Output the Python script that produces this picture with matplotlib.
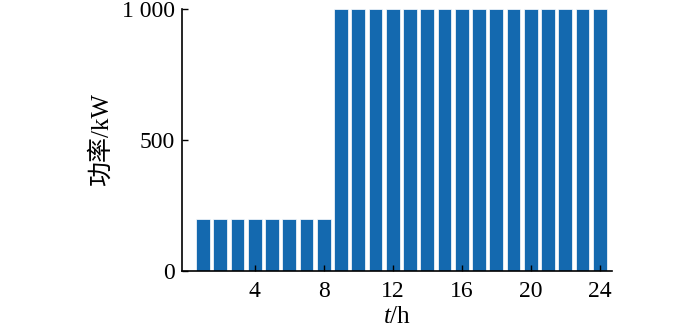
import matplotlib
matplotlib.use("Agg")
import matplotlib.pyplot as plt

hours = list(range(1, 25))
power = [200]*8 + [1000]*16
xticks = [4, 8, 12, 16, 20, 24]
yticks = [0, 500, 1000]
ytick_labels = ["0", "500", "1 000"]

plt.rcParams['font.family'] = ['Liberation Serif', 'Noto Sans CJK SC']
plt.rcParams['mathtext.fontset'] = 'custom'
plt.rcParams['mathtext.it'] = 'Liberation Serif:italic'
plt.rcParams['mathtext.rm'] = 'Liberation Serif'

fig = plt.figure(figsize=(7, 3.28), dpi=100)
ax = fig.add_axes([0.26, 0.174, 0.614, 0.799])
ax.bar(hours, power, width=0.8, color='#1469af', edgecolor='#ffffff', linewidth=0.5)
ax.set_xlim(-0.22, 24.7)
ax.set_ylim(0, 1000)
ax.set_xticks(xticks)
ax.set_yticks(yticks)
ax.set_yticklabels(ytick_labels)
ax.tick_params(direction='in', length=4, width=1, labelsize=17)
ax.tick_params(axis='x', pad=7)
ax.tick_params(axis='y', pad=5)
for s in ['top', 'right']:
    ax.spines[s].set_visible(False)
for s in ['left', 'bottom']:
    ax.spines[s].set_linewidth(1.2)
ax.set_xlabel('$t$/h', fontsize=18, labelpad=3)
ax.set_ylabel('功率/kW', fontsize=18, labelpad=7)
fig.savefig('out.png', dpi=100)
